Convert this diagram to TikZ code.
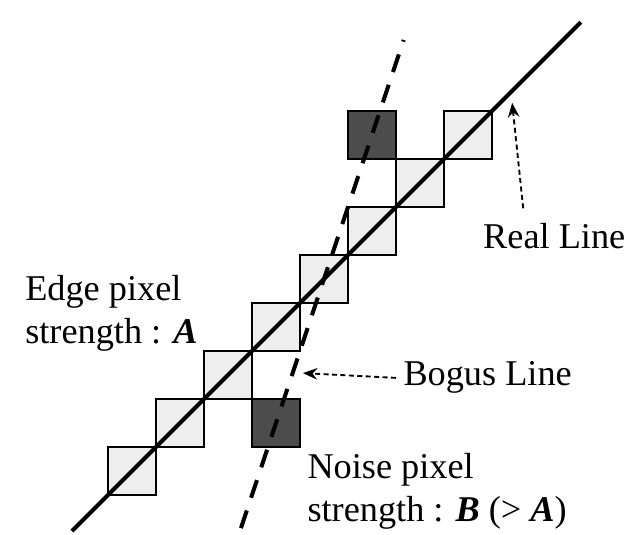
\documentclass[tikz,border=0pt]{standalone}
\usepackage{fontspec}
\setmainfont{Liberation Serif}
\usetikzlibrary{arrows.meta,calc}

\begin{document}
\begin{tikzpicture}[
  pix/.style={draw, line width=0.9pt, fill=gray!13, minimum size=1cm, inner sep=0pt},
  noise/.style={pix, fill=black!70},
  txt/.style={font=\fontsize{21.5}{25.5}\selectfont, inner sep=0pt, align=left},
  realline/.style={line width=2.4pt},
  bogus/.style={line width=2.4pt, dash pattern=on 11pt off 8pt},
  pointer/.style={-{Stealth[length=3mm,width=2.4mm]}, line width=1.1pt, dash pattern=on 3pt off 2pt}
]
  \useasboundingbox (-2.25,-0.833) rectangle (10.875,10.3125);

  \foreach \i in {0,...,7}
    \node[pix] (e\i) at (\i+0.5,\i+0.5) {};
  \node[noise] (n1) at (3.5,1.5) {};
  \node[noise] (n2) at (5.5,7.5) {};

  \coordinate (r0) at (-0.75,-0.75);
  \coordinate (r1) at (9.85,9.85);
  \draw[realline] (r0) -- (r1);
  \draw[bogus] ($(n1)!-0.365!(n2)$) -- ($(n1)!1.33!(n2)$);

  \node[txt, anchor=north west] (edgetxt) at (-1.73,4.58) {Edge pixel\\strength : \textbf{\textit{A}}};
  \node[txt, anchor=north west] (noisetxt) at (4.15,0.875) {Noise pixel\\strength : \textbf{\textit{B}} (> \textbf{\textit{A}})};
  \node[txt, anchor=west] (realtxt) at (7.81,5.40) {Real Line};
  \node[txt, anchor=west] (bogustxt) at (6.15,2.44) {Bogus Line};

  \coordinate (rtip) at (8.42,8.17);
  \coordinate (btip) at (4.06,2.54);
  \draw[pointer] ([shift={(0.84,0.3)}]realtxt.north west) -- (rtip);
  \draw[pointer] ([xshift=-0.15cm]bogustxt.west) -- (btip);
\end{tikzpicture}
\end{document}
